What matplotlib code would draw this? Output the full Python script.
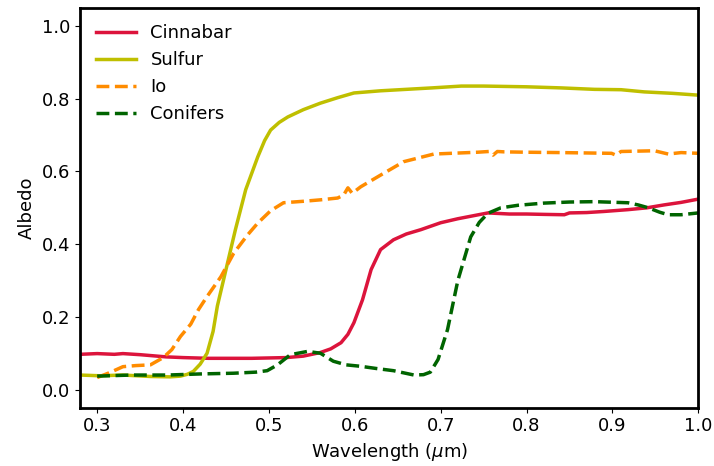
import matplotlib
matplotlib.use("Agg")
import matplotlib.pyplot as plt

# reflectance spectra (wavelength in micron, albedo)
cinnabar_wl = [0.28, 0.30, 0.32, 0.33, 0.35, 0.38, 0.40, 0.43, 0.45, 0.48, 0.50, 0.52,
               0.54, 0.56, 0.572, 0.584, 0.592, 0.599, 0.609, 0.619, 0.63, 0.645,
               0.66, 0.677, 0.70, 0.72, 0.755, 0.78, 0.80, 0.82, 0.844, 0.85,
               0.87, 0.89, 0.918, 0.94, 0.96, 0.98, 1.00]
cinnabar_al = [0.097, 0.099, 0.097, 0.099, 0.096, 0.090, 0.088, 0.086, 0.086, 0.086, 0.087, 0.088,
               0.092, 0.102, 0.112, 0.129, 0.152, 0.184, 0.247, 0.33, 0.385, 0.412,
               0.428, 0.44, 0.459, 0.47, 0.486, 0.483, 0.483, 0.482, 0.481, 0.486,
               0.487, 0.49, 0.495, 0.50, 0.508, 0.515, 0.524]

sulfur_wl = [0.28, 0.303, 0.33, 0.362, 0.385, 0.397, 0.405, 0.412, 0.42, 0.428, 0.435, 0.44,
             0.446, 0.452, 0.461, 0.473, 0.487, 0.495, 0.502, 0.512, 0.522, 0.54, 0.56,
             0.58, 0.599, 0.63, 0.66, 0.69, 0.724, 0.75, 0.80, 0.84,
             0.879, 0.91, 0.937, 0.97, 1.00]
sulfur_al = [0.040, 0.038, 0.040, 0.036, 0.035, 0.037, 0.042, 0.050, 0.070, 0.10, 0.16, 0.23,
             0.29, 0.35, 0.44, 0.55, 0.64, 0.685, 0.714, 0.735, 0.75, 0.77, 0.788,
             0.803, 0.816, 0.822, 0.826, 0.83, 0.835, 0.835, 0.833, 0.83,
             0.826, 0.825, 0.819, 0.815, 0.81]

io_wl = [0.30, 0.315, 0.33, 0.345, 0.362, 0.377, 0.387, 0.397, 0.409, 0.418, 0.428, 0.444,
         0.459, 0.475, 0.487, 0.502, 0.517, 0.54, 0.56, 0.58, 0.587, 0.592, 0.597, 0.607,
         0.63, 0.657, 0.692, 0.743, 0.756, 0.761, 0.766, 0.774, 0.80, 0.84, 0.899, 0.904,
         0.91, 0.949, 0.965, 0.98, 1.00]
io_al = [0.033, 0.047, 0.063, 0.066, 0.068, 0.088, 0.11, 0.146, 0.18, 0.22, 0.256, 0.31,
         0.375, 0.425, 0.458, 0.492, 0.514, 0.518, 0.522, 0.527, 0.535, 0.555, 0.54, 0.558,
         0.59, 0.627, 0.648, 0.653, 0.655, 0.645, 0.655, 0.654, 0.653, 0.652, 0.65, 0.645,
         0.655, 0.657, 0.648, 0.652, 0.65]

conifers_wl = [0.30, 0.34, 0.382, 0.42, 0.459, 0.485, 0.498, 0.51, 0.525, 0.545, 0.56, 0.575,
               0.59, 0.607, 0.625, 0.645, 0.669, 0.68, 0.688, 0.697, 0.708, 0.72, 0.735,
               0.745, 0.755, 0.77, 0.79, 0.82, 0.85, 0.879, 0.918, 0.93, 0.942, 0.955,
               0.965, 0.98, 1.00]
conifers_al = [0.037, 0.040, 0.040, 0.043, 0.045, 0.048, 0.052, 0.068, 0.096, 0.105, 0.10, 0.078,
               0.068, 0.064, 0.058, 0.052, 0.040, 0.041, 0.048, 0.083, 0.165, 0.30, 0.42,
               0.46, 0.485, 0.50, 0.507, 0.513, 0.516, 0.517, 0.514, 0.508, 0.50, 0.488,
               0.481, 0.481, 0.486]

plt.rcParams["font.size"] = 13

fig = plt.figure(figsize=(7.14, 4.66), dpi=100)
ax = fig.add_axes([0.112, 0.125, 0.866, 0.858])

ax.plot(cinnabar_wl, cinnabar_al, color="crimson", lw=2.5, label="Cinnabar")
ax.plot(sulfur_wl, sulfur_al, color="y", lw=2.5, label="Sulfur")
ax.plot(io_wl, io_al, color="darkorange", lw=2.5, ls="--", label="Io")
ax.plot(conifers_wl, conifers_al, color="darkgreen", lw=2.5, ls="--", label="Conifers")

ax.set_xlim(0.28, 1.0)
ax.set_ylim(-0.05, 1.05)
ax.set_xlabel(r"Wavelength ($\mu$m)")
ax.set_ylabel("Albedo")

for s in ax.spines.values():
    s.set_linewidth(2)

ax.legend(loc="upper left", frameon=False, handlelength=2.2)

fig.savefig("out.png", dpi=100)
